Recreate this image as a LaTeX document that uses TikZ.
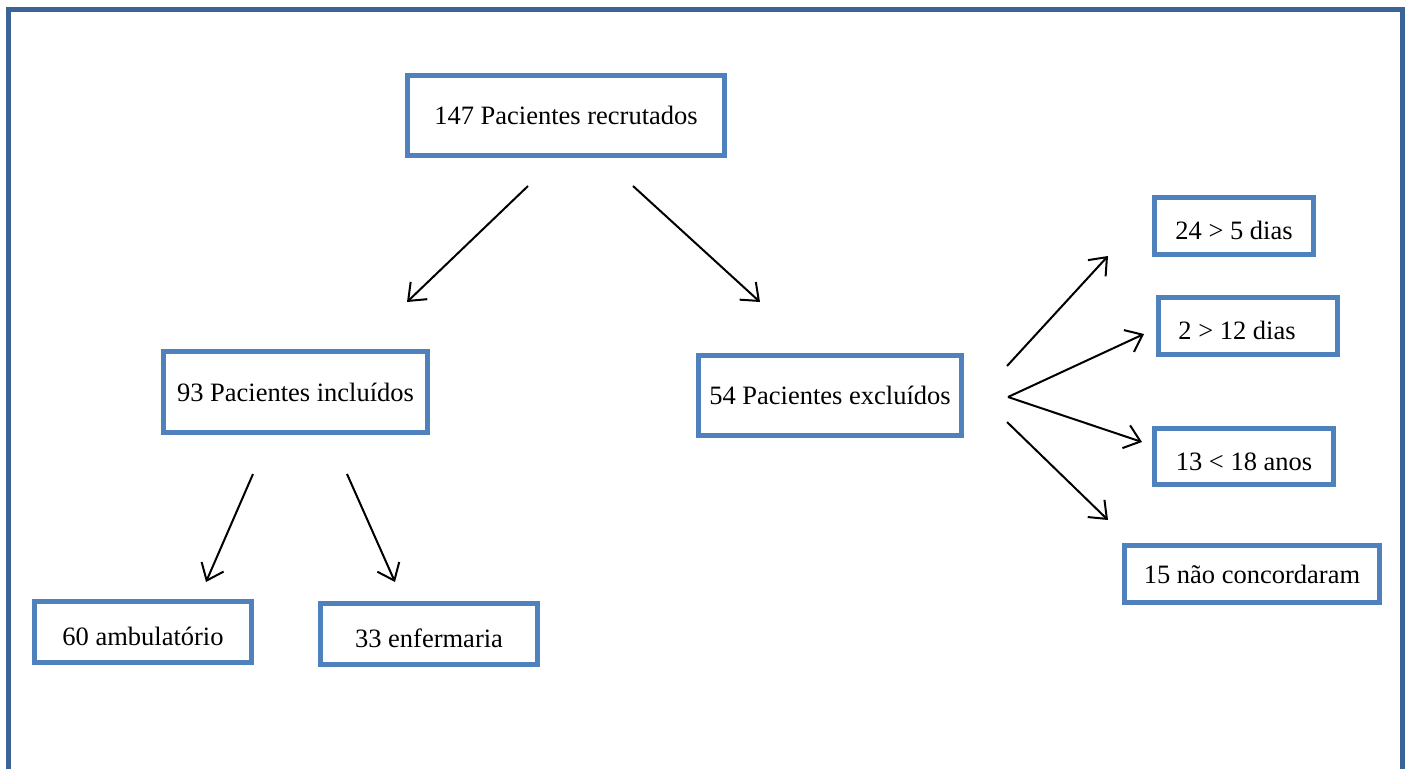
\documentclass[tikz,border=0pt]{standalone}
\usepackage{fontspec}
\setmainfont{Liberation Serif}
\usetikzlibrary{arrows.meta}
\definecolor{boxblue}{HTML}{4F81BD}
\definecolor{frameblue}{HTML}{3A6498}
\tikzset{
  box/.style={draw=boxblue, line width=5pt, inner sep=0pt, font=\fontsize{26.5}{30}\selectfont},
  low/.style={text height=27pt, text depth=0pt},
  arr/.style={line width=2pt, -{Straight Barb[length=15pt,width=24pt,line width=2pt]}}
}
\begin{document}
\begin{tikzpicture}[x=1pt,y=-1pt]
        \useasboundingbox (0,0) rectangle (1411,769);
        % frame, open at the bottom
        \draw[frameblue, line width=5pt] (8.5,769) -- (8.5,9.5) -- (1402.5,9.5) -- (1402.5,769);
        % boxes
        \node[box, minimum width=317pt, minimum height=80pt] (rec) at (566,115.5) {147 Pacientes recrutados};
        \node[box, minimum width=264pt, minimum height=81pt] (inc) at (295.5,392) {93 Pacientes incluídos};
        \node[box, minimum width=263pt, minimum height=80pt] (exc) at (830,395.5) {54 Pacientes excluídos};
        \node[box, low, minimum width=217pt, minimum height=61pt] (amb) at (143,632) {60 ambulatório};
        \node[box, low, minimum width=217pt, minimum height=61pt] (enf) at (429,634) {33 enfermaria};
        \node[box, low, minimum width=159pt, minimum height=57pt] (d5) at (1234,226) {24 > 5 dias};
        \node[box, low, minimum width=179pt, minimum height=57pt] (d12) at (1248,326) {\hspace*{-22pt}2 > 12 dias};
        \node[box, low, minimum width=179pt, minimum height=56pt] (a18) at (1244,456.5) {13 < 18 anos};
        \node[box, minimum width=255pt, minimum height=57pt] (nc) at (1252,574) {15 não concordaram};
        % arrow ends
        \coordinate (rec-l) at (528,186);  \coordinate (inc-t) at (407,302);
        \coordinate (rec-r) at (633,186);  \coordinate (exc-t) at (760,302);
        \coordinate (inc-l) at (253,474);  \coordinate (amb-t) at (206,582);
        \coordinate (inc-r) at (347,474);  \coordinate (enf-t) at (395,582);
        \coordinate (exc-a) at (1007,366); \coordinate (d5-l) at (1108,256);
        \coordinate (exc-b) at (1008,397); \coordinate (d12-l) at (1144,334);
        \coordinate (a18-l) at (1142,442);
        \coordinate (exc-c) at (1007,422); \coordinate (nc-l) at (1108,520);
        \foreach \a/\b in {rec-l/inc-t, rec-r/exc-t, inc-l/amb-t, inc-r/enf-t,
                           exc-a/d5-l, exc-b/d12-l, exc-b/a18-l, exc-c/nc-l}{
          \draw[arr] (\a) -- (\b);
        }
      \end{tikzpicture}
\end{document}
